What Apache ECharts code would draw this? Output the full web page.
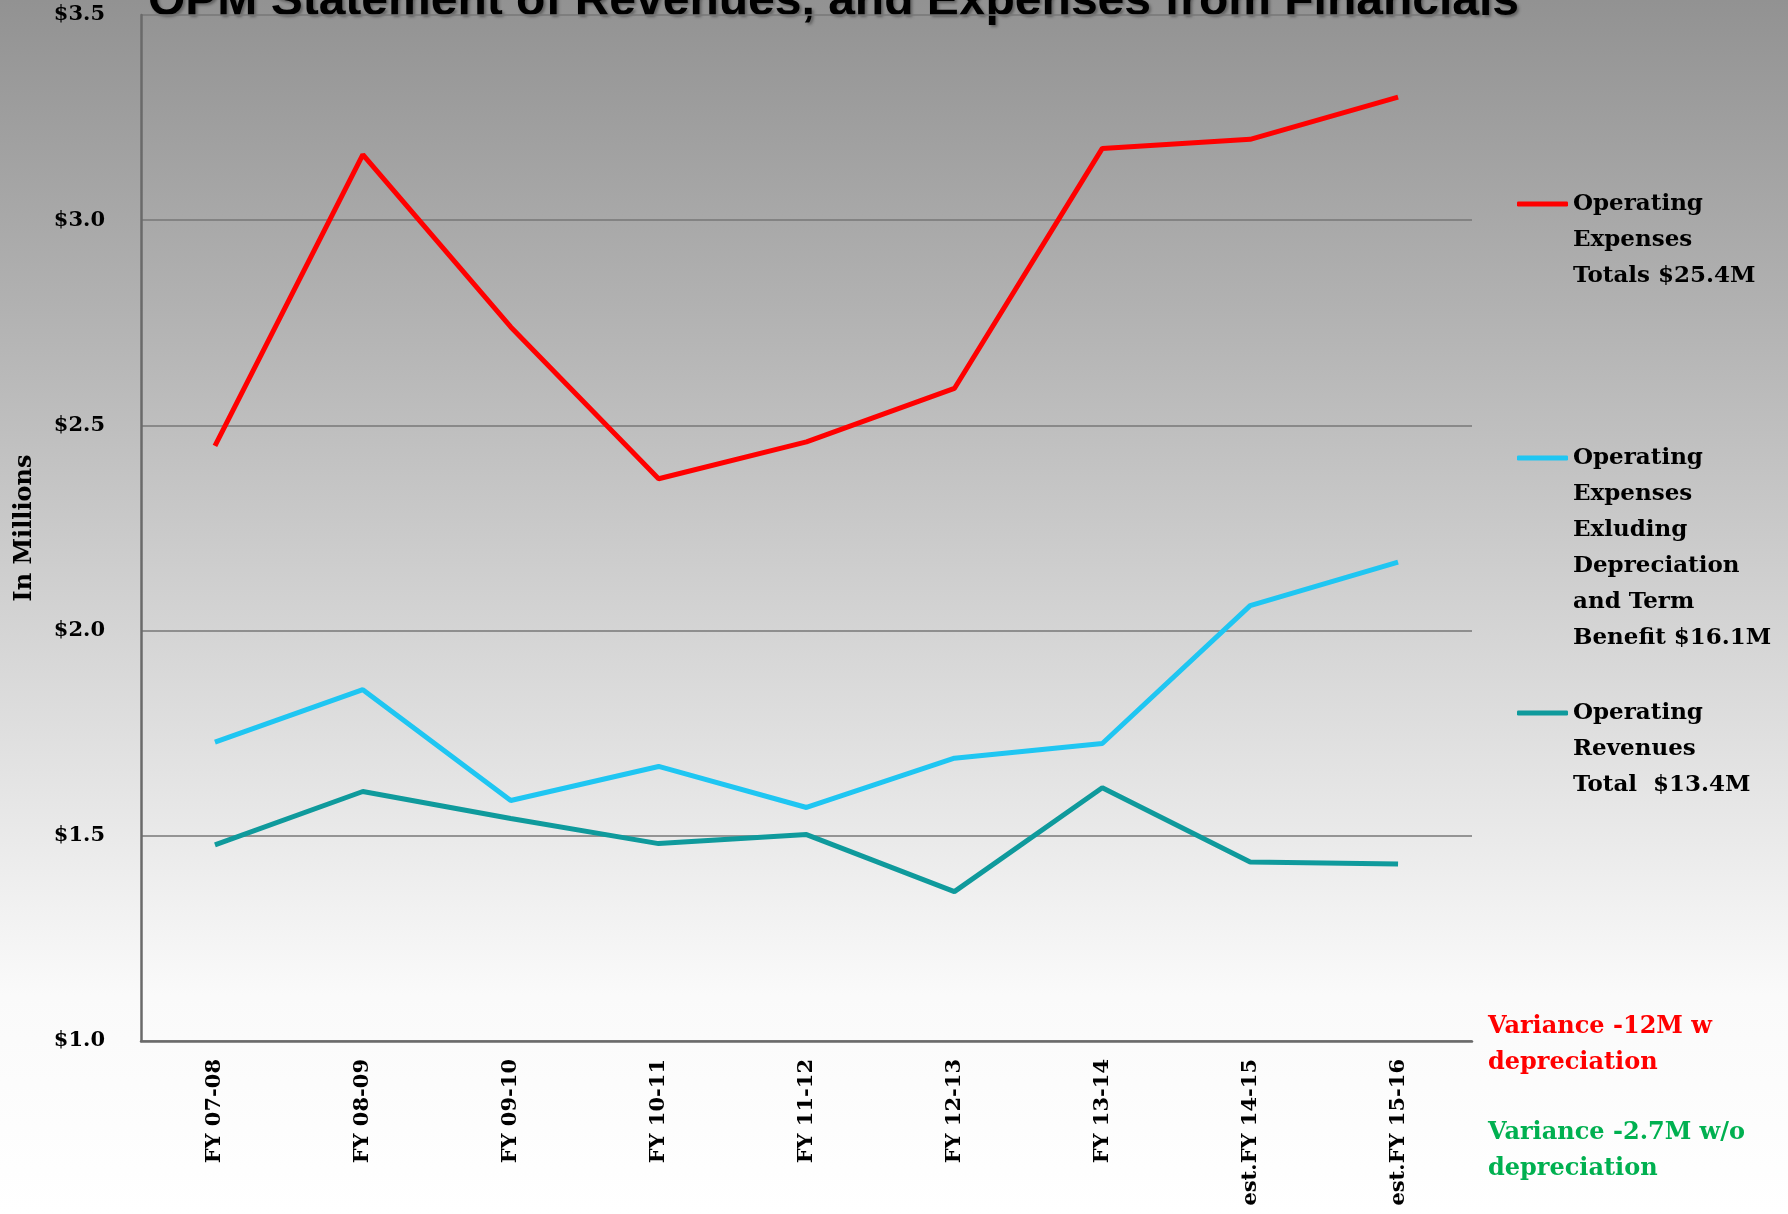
<!DOCTYPE html>
<html>
<head>
<meta charset="utf-8">
<script src="https://cdn.jsdelivr.net/npm/echarts@6/dist/echarts.min.js"></script>
<style>
html,body{margin:0;padding:0;background:#fff;}
#chart{width:1788px;height:1214px;}
</style>
</head>
<body>
<div id="chart"></div>
<script>
const categories = ['FY 07-08','FY 08-09','FY 09-10','FY 10-11','FY 11-12','FY 12-13','FY 13-14','est.FY 14-15','est.FY 15-16'];
const opExpensesTotal = [2.45, 3.16, 2.74, 2.37, 2.46, 2.59, 3.175, 3.197, 3.30];
const opExpensesExDep = [1.728, 1.856, 1.586, 1.669, 1.569, 1.689, 1.725, 2.061, 2.167];
const opRevenues = [1.478, 1.608, 1.542, 1.481, 1.503, 1.364, 1.617, 1.436, 1.431];
const seriesNames = ['Operating Expenses Totals $25.4M','Operating Expenses Exluding Depreciation and Term Benefit $16.1M','Operating Revenues Total  $13.4M'];
const legendLines = [
  ['Operating','Expenses','Totals $25.4M'],
  ['Operating','Expenses','Exluding','Depreciation','and Term','Benefit $16.1M'],
  ['Operating','Revenues','Total  $13.4M']
];
const titleText = 'OPM Statement of Revenues, and Expenses from Financials';
const yAxisName = 'In Millions';
const note1 = ['Variance -12M w','depreciation'];
const note2 = ['Variance -2.7M w/o','depreciation'];
const colors = ['#ff0000','#1fc6f2','#0f9a9c'];

const serif = '"DejaVu Serif", serif';
const chart = echarts.init(document.getElementById('chart'), null, {renderer:'canvas'});

const legendTops = [114, 260, 623];
const legends = legendLines.map((lines, i) => ({
  show: true,
  data: [seriesNames[i]],
  left: 1517,
  top: legendTops[i],
  padding: 0,
  icon: 'roundRect',
  itemWidth: 51,
  itemHeight: 5,
  selectedMode: false,
  formatter: () => new Array(lines.length - 1).fill('').concat(lines).join('\n'),
  textStyle: {fontFamily: serif, fontWeight: 'bold', fontSize: 23, lineHeight: 36, color: '#000'}
}));

const option = {
  backgroundColor: {
    type: 'linear', x: 0, y: 0, x2: 0, y2: 1,
    colorStops: [
      {offset: 0, color: '#929292'},
      {offset: 0.25, color: '#b1b1b1'},
      {offset: 0.5, color: '#d2d2d2'},
      {offset: 0.7, color: '#ebebeb'},
      {offset: 0.82, color: '#fafafa'},
      {offset: 1, color: '#ffffff'}
    ]
  },
  animation: false,
  grid: {left: 141, right: 316, top: 15, bottom: 173, containLabel: false},
  legend: legends,
  xAxis: {
    type: 'category',
    data: categories,
    boundaryGap: true,
    axisLine: {show: true, lineStyle: {color: '#6a6a6a', width: 2.5}},
    axisTick: {show: false},
    axisLabel: {
      rotate: 90, margin: 18, interval: 0,
      fontFamily: serif, fontWeight: 'bold', fontSize: 21, color: '#000'
    },
    splitLine: {show: false}
  },
  yAxis: {
    type: 'value', min: 1, max: 3.5, interval: 0.5,
    name: yAxisName, nameLocation: 'middle', nameGap: 104, nameRotate: 90,
    nameTextStyle: {fontFamily: serif, fontWeight: 'bold', fontSize: 24, color: '#000'},
    axisLine: {show: true, lineStyle: {color: '#6a6a6a', width: 2.5}},
    axisTick: {show: false},
    axisLabel: {
      margin: 36, fontFamily: serif, fontWeight: 'bold', fontSize: 21, color: '#000',
      formatter: v => '$' + v.toFixed(1)
    },
    splitLine: {show: true, lineStyle: {color: '#777', width: 1.5}}
  },
  series: [opExpensesTotal, opExpensesExDep, opRevenues].map((d, i) => ({
    name: seriesNames[i],
    type: 'line',
    data: d,
    showSymbol: false,
    symbol: 'none',
    color: colors[i],
    lineStyle: {color: colors[i], width: 5},
    z: 3 + i
  })),
  graphic: [
    {
      type: 'text', left: 148, top: -22,
      style: {
        text: titleText, fontFamily: '"Liberation Sans", Arial, sans-serif', fontWeight: 'bold',
        fontSize: 48, fill: '#000',
        textShadowColor: 'rgba(0,0,0,0.35)', textShadowOffsetX: 2, textShadowOffsetY: 2, textShadowBlur: 3
      }
    },
    {
      type: 'text', left: 1488, top: 1009,
      style: {text: note1.join('\n'), fontFamily: serif, fontWeight: 'bold', fontSize: 24, lineHeight: 36, fill: '#ff0000'}
    },
    {
      type: 'text', left: 1488, top: 1115,
      style: {text: note2.join('\n'), fontFamily: serif, fontWeight: 'bold', fontSize: 24, lineHeight: 36, fill: '#00b050'}
    }
  ]
};
chart.setOption(option);
</script>
</body>
</html>
